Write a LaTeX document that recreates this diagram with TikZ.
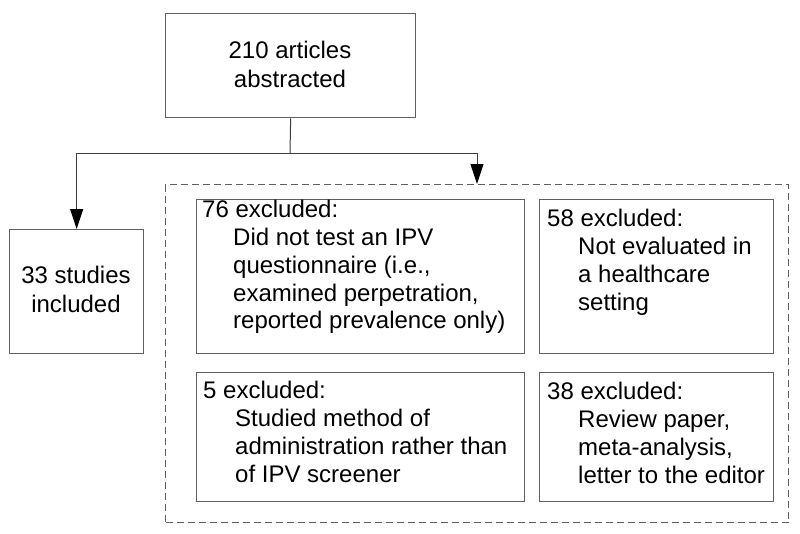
\documentclass[tikz,border=0pt]{standalone}
\usepackage{fontspec}
\setmainfont{Liberation Sans}
\usetikzlibrary{arrows.meta}
\definecolor{boxgray}{RGB}{95,95,95}
\definecolor{linegray}{RGB}{60,60,60}
\begin{document}
\begin{tikzpicture}[x=1pt,y=-1pt,
  box/.style={draw=boxgray, line width=1.3pt, anchor=north west, inner sep=0pt},
  dashbox/.style={draw=boxgray, line width=1pt, dash pattern=on 7pt off 4pt, anchor=north west, inner sep=0pt},
  txt/.style={anchor=base west, inner sep=0pt, font=\fontsize{24}{28}\selectfont},
  ctxt/.style={anchor=base, inner sep=0pt, font=\fontsize{24}{28}\selectfont},
  conn/.style={draw=linegray, line width=1pt},
  arr/.style={-{Triangle[length=20pt,width=13pt,color=black,fill=black]}}]
\useasboundingbox (0,0) rectangle (800,533);
% boxes
\node[box, minimum width=250pt, minimum height=104pt] (top) at (165,13) {};
\node[box, minimum width=134pt, minimum height=124pt] (incl) at (9,229) {};
\node[dashbox, minimum width=623pt, minimum height=338pt] (excl) at (165,184) {};
\node[box, minimum width=328pt, minimum height=154pt] (tl) at (196,199) {};
\node[box, minimum width=234pt, minimum height=154pt] (tr) at (539,199) {};
\node[box, minimum width=328pt, minimum height=129pt] (bl) at (196,372) {};
\node[box, minimum width=234pt, minimum height=129pt] (br) at (539,372) {};
% connectors
\coordinate (j) at (290,153);
\draw[conn] (top.south) -- (j);
\draw[conn, arr] (j) -| (incl.north);
\draw[conn, arr] (j) -| (excl.north);
% texts
\node[ctxt] (t1) at (290,58) {210 articles};
\node[ctxt] (t2) at (290,87) {abstracted};
\node[ctxt] (i1) at (76,283) {33 studies};
\node[ctxt] (i2) at (76,312) {included};
\node[txt] (a1) at (202,217) {76 excluded:};
\node[txt] (a2) at (233,245) {Did not test an IPV};
\node[txt] (a3) at (233,273) {questionnaire (i.e.,};
\node[txt] (a4) at (233,301) {examined perpetration,};
\node[txt] (a5) at (233,328) {reported prevalence only)};
\node[txt] (b1) at (547,226) {58 excluded:};
\node[txt] (b2) at (578,254) {Not evaluated in};
\node[txt] (b3) at (578,282) {a healthcare};
\node[txt] (b4) at (578,310) {setting};
\node[txt] (c1) at (203,398) {5 excluded:};
\node[txt] (c2) at (235,426) {Studied method of};
\node[txt] (c3) at (235,454) {administration rather than};
\node[txt] (c4) at (235,482) {of IPV screener};
\node[txt] (d1) at (547,399) {38 excluded:};
\node[txt] (d2) at (578,427) {Review paper,};
\node[txt] (d3) at (578,455) {meta-analysis,};
\node[txt] (d4) at (578,483) {letter to the editor};
\end{tikzpicture}
\end{document}
